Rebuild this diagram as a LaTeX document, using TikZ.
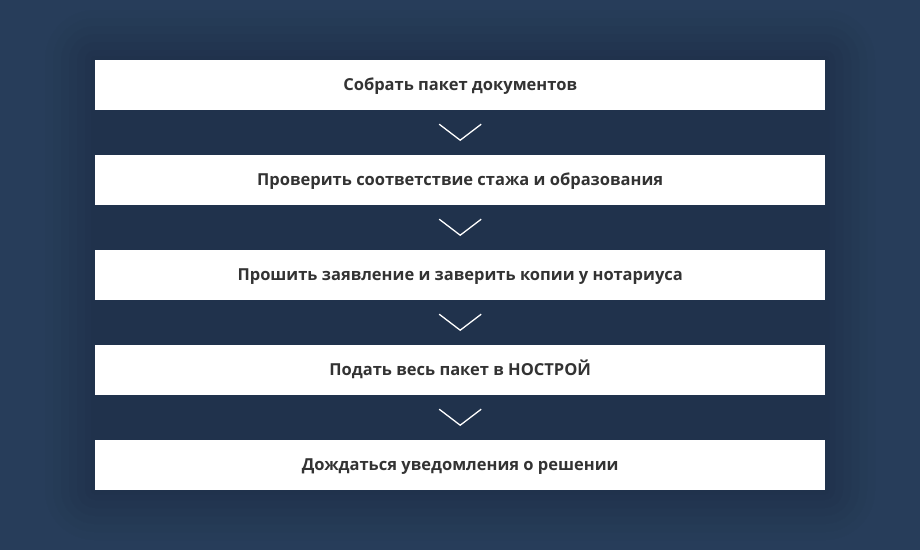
\documentclass[tikz,border=0pt]{standalone}
\usepackage{fontspec}
\setmainfont{Open Sans}
\usetikzlibrary{calc}
\definecolor{bgc}{HTML}{273D5A}
\definecolor{shc}{HTML}{1C2C43}
\definecolor{txc}{HTML}{333333}
\tikzset{
  stepbox/.style={fill=white, minimum width=730pt, minimum height=50pt, inner sep=0pt,
    font=\bfseries\fontsize{16.5}{20}\selectfont, text=txc, anchor=north west,
    text height=13.5pt, text depth=3pt},
  chev/.style={draw=white, line width=1.3pt, line join=miter}
}
\begin{document}
\begin{tikzpicture}[x=1pt,y=-1pt]
\fill[bgc] (0,0) rectangle (920,550);
\useasboundingbox (0,0) rectangle (920,550);
\foreach \r/\o in {50/0.05,42/0.06,34/0.07,26/0.08,18/0.10,10/0.12,4/0.14}{
  \fill[shc, opacity=\o, rounded corners=\r pt] (95-\r,60-\r) rectangle (825+\r,490+\r);
}
\node[stepbox] (s1) at (95,60) {Собрать пакет документов};
\node[stepbox] (s2) at (95,155) {Проверить соответствие стажа и образования};
\node[stepbox] (s3) at (95,250) {Прошить заявление и заверить копии у нотариуса};
\node[stepbox] (s4) at (95,345) {Подать весь пакет в НОСТРОЙ};
\node[stepbox] (s5) at (95,440) {Дождаться уведомления о решении};
\foreach \a/\b in {s1/s2,s2/s3,s3/s4,s4/s5}{
  \coordinate (m) at ($(\a.south)!0.5!(\b.north)$);
  \draw[chev] ([xshift=-21pt,yshift=8.5pt]m) -- ([yshift=-7.5pt]m) -- ([xshift=21pt,yshift=8.5pt]m);
}
\end{tikzpicture}
\end{document}
